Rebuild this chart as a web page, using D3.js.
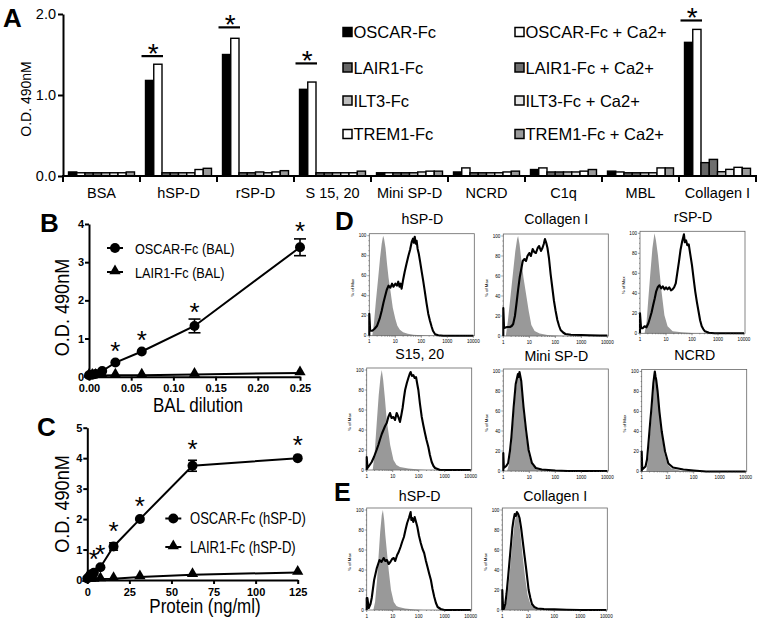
<!DOCTYPE html>
<html><head><meta charset="utf-8">
<script src="https://cdn.jsdelivr.net/npm/d3@7"></script>
<style>body{margin:0;background:#fff} svg{display:block} text{font-family:"Liberation Sans",Arial,sans-serif}</style>
</head><body><svg id="c" width="764" height="626"></svg>
<script>
// ================= DATA =================
// Panel A
const aCategories = ["BSA","hSP-D","rSP-D","S 15, 20","Mini SP-D","NCRD","C1q","MBL","Collagen I"];
const aSeries = ["OSCAR-Fc","OSCAR-Fc + Ca2+","LAIR1-Fc","LAIR1-Fc + Ca2+","ILT3-Fc","ILT3-Fc + Ca2+","TREM1-Fc","TREM1-Fc + Ca2+"];
const aOSCAR   = [0.05,1.18,1.50,1.07,0.04,0.05,0.08,0.06,1.65];
const aOSCARCa = [0.04,1.38,1.70,1.16,0.04,0.10,0.10,0.05,1.81];
const aLAIR1   = [0.04,0.04,0.04,0.04,0.04,0.04,0.05,0.04,0.165];
const aLAIR1Ca = [0.04,0.04,0.04,0.04,0.04,0.04,0.05,0.04,0.205];
const aILT3    = [0.04,0.04,0.05,0.04,0.04,0.04,0.05,0.04,0.053];
const aILT3Ca  = [0.04,0.04,0.04,0.04,0.05,0.04,0.05,0.04,0.082];
const aTREM1   = [0.04,0.08,0.05,0.04,0.06,0.05,0.06,0.10,0.107];
const aTREM1Ca = [0.05,0.095,0.066,0.06,0.06,0.06,0.08,0.10,0.095];
const aSigCats = ["hSP-D","rSP-D","S 15, 20","Collagen I"];
const aSigLevel = [1.48,1.835,1.39,1.92];
const aYTicks = [0,1,2];

// Panel B
const bX = [0,0.0039,0.0078,0.0156,0.03125,0.0625,0.125,0.25];
const bOSCAR = [0.04,0.05,0.07,0.15,0.37,0.66,1.33,3.39];
const bOSCARErr = [0,0,0,0,0.03,0.03,0.18,0.22];
const bLAIR1 = [0.03,0.03,0.03,0.03,0.04,0.04,0.06,0.10];
const bSig = [0.03125,0.0625,0.125,0.25];
const bXTicks = [0,0.05,0.10,0.15,0.20,0.25];
const bYTicks = [0,1,2,3,4];

// Panel C
const cX = [0,0.98,1.95,3.9,7.8,15.6,31.25,62.5,125];
const cOSCAR = [0.05,0.10,0.18,0.24,0.42,1.10,2.00,3.75,4.00];
const cOSCARErr = [0,0,0,0,0.03,0.12,0.04,0.18,0.05];
const cLAIR1 = [0.02,0.02,0.02,0.02,0.03,0.04,0.10,0.17,0.25];
const cSig = [3.9,7.8,15.6,31.25,62.5,125];
const cXTicks = [0,25,50,75,100,125];
const cYTicks = [0,1,2,3,4,5];

// Panels D/E : flow histograms, [fluorescence, % of max]
const dHspdIso = [[1,0],[1.3,0],[1.5,12],[1.8,35],[2.2,58],[2.6,78],[3.0,92],[3.4,100],[3.7,97],[4.2,88],[4.8,72],[5.5,58],[6.5,45],[8,28],[10,17],[12,10],[15,6],[20,3.5],[30,2],[50,1],[100,0.5],[200,0],[10000,0]];
const dHspdStain = [[1,0],[1,22],[1.08,5],[1.3,5],[1.6,7],[2,10],[2.5,17],[3,25],[3.5,33],[4,39],[4.7,46],[5.5,50],[6.5,48],[7.5,52],[8.5,49],[10,52],[11.5,50],[13,54],[14.5,49],[16,52],[17.5,47],[20,56],[23,64],[27,72],[32,80],[37,86],[43,94],[48,97],[52,93],[56,99],[61,92],[66,95],[72,87],[80,82],[90,74],[105,63],[118,55],[135,45],[160,32],[185,22],[215,15],[250,9],[280,5],[340,1.5],[450,0.5],[700,0],[10000,0]];
const dColIso = [[1,0],[1.25,0],[1.5,15],[1.9,40],[2.4,65],[2.9,85],[3.4,97],[3.7,100],[4.2,92],[5,75],[6,58],[7.5,42],[9.5,25],[12,11],[16,5],[25,2.5],[50,1],[150,0.3],[300,0],[10000,0]];
const dColStain = [[1,0],[1,28],[1.07,8],[1.4,9],[1.8,9],[2.1,10],[2.4,12],[2.8,20],[3.2,32],[3.7,46],[4.3,59],[5,68],[5.6,75],[6.5,77],[7.5,75],[8.5,80],[10,83],[11.5,80],[13.5,87],[15.5,84],[18,83],[21,88],[24,90],[28,85],[32,88],[36,92],[40,97],[45,93],[50,88],[57,78],[66,62],[77,48],[89,35],[103,25],[120,16],[140,10],[160,6],[200,3.5],[245,2],[400,1.2],[1000,1],[2000,0.8],[5000,0.5],[10000,0.5]];
const dRspdIso = [[1,0],[1.5,0],[1.8,12],[2.1,35],[2.5,60],[3.0,85],[3.6,100],[4.1,93],[4.9,78],[6.5,45],[8.7,18],[11.5,7],[18,2],[40,1],[100,0.3],[200,0],[10000,0]];
const dRspdStain = [[1,0],[1,20],[1.1,5],[1.26,5],[1.5,7],[1.78,6],[2.1,10],[2.4,15],[2.8,21],[3.2,28],[3.7,35],[4.2,42],[4.8,46],[5.6,48],[6.5,45],[7.5,47],[8.7,44],[10,46],[11.5,44],[13.3,46],[15.5,43],[17.8,44],[20.5,46],[23.7,50],[27,60],[31.6,72],[36,83],[42,92],[46,96],[49,99],[53,91],[59,93],[66,88],[75,89],[86,79],[100,68],[115,55],[133,42],[155,31],[178,22],[205,13],[237,7],[275,4],[316,2],[450,0.5],[740,0],[10000,0]];
const dS1520Iso = [[1,0],[1.7,0],[2,15],[2.4,45],[2.9,75],[3.4,93],[3.8,100],[4.3,90],[5,72],[5.9,50],[8,25],[10.7,10],[14,5],[19,3],[40,1.5],[100,0.5],[200,0],[10000,0]];
const dS1520Stain = [[1,0],[1,13],[1.08,2],[1.3,5],[1.56,8],[1.9,13],[2.4,20],[2.8,25],[3.2,30],[3.8,36],[4.4,40],[5.1,44],[5.9,47],[6.8,53],[7.9,57],[9,52],[10.6,53],[12.3,50],[14.2,57],[16.5,53],[19,48],[21.5,55],[24,62],[27,72],[30,80],[35,87],[40,92],[45,96],[49,98],[55,94],[62,95],[70,92],[79,93],[88,86],[97,80],[112,66],[131,53],[150,45],[174,37],[200,30],[235,23],[270,15],[316,8],[370,4],[425,2],[665,0],[10000,0]];
const dMiniIso = [[1,0],[1.4,0],[1.7,8],[2.05,25],[2.5,55],[3.0,80],[3.65,95],[4.2,97],[4.9,85],[6,58],[7.5,35],[9.4,17],[12.6,6],[17.8,2],[30,1],[80,0],[10000,0]];
const dMiniStain = [[1,0],[1,18],[1.05,3],[1.3,5],[1.54,8],[1.8,20],[2.05,34],[2.5,64],[3.0,87],[3.65,97],[3.9,94],[4.2,99],[4.9,90],[6,64],[7.5,41],[9.4,21],[12.6,8],[17.8,3],[30,1.5],[100,0.5],[300,0],[10000,0]];
const dNcrdIso = [[1,0],[1.5,0],[1.8,15],[2.1,38],[2.5,60],[2.9,82],[3.3,95],[3.7,90],[4.3,75],[5,55],[6,36],[7.5,18],[10,7],[14,3],[30,1],[80,0],[10000,0]];
const dNcrdStain = [[1,0],[1,20],[1.05,2],[1.4,5],[1.6,12],[1.8,27],[2.1,48],[2.4,65],[2.8,88],[3.05,96],[3.2,100],[3.4,95],[3.6,92],[4.1,80],[4.8,60],[5.9,40],[7.9,20],[10.6,8],[16,4],[40,2],[100,1],[300,0],[10000,0]];
const eHspdIso = [[1,0],[1.8,0],[2.1,8],[2.5,30],[2.8,50],[3.3,78],[3.8,95],[4.2,100],[4.7,90],[5.2,75],[6,58],[7,40],[8.6,20],[11,8],[14,4],[17,3],[30,1.5],[70,0.5],[150,0],[10000,0]];
const eHspdStain = [[1,0],[1,12],[1.06,12],[1.2,2],[1.4,6],[1.56,12],[1.93,30],[2.45,42],[3.1,50],[3.7,48],[4.5,52],[5.2,49],[6,50],[7,46],[8.1,48],[9.5,51],[11,52],[12.5,49],[14.8,55],[17,58],[20,63],[23,68],[27,73],[31,80],[36,87],[42,92],[49,98],[52,90],[56,92],[62,88],[70,93],[79,88],[89,83],[103,74],[120,67],[140,61],[162,57],[190,49],[218,43],[255,36],[295,30],[340,21],[398,13],[460,7],[535,3],[700,1],[970,0],[10000,0]];
const eColIso = [[1,0],[1.2,0],[1.5,10],[1.9,35],[2.4,65],[3.0,88],[3.6,97],[4.1,95],[4.8,80],[6,55],[7.5,33],[9.4,15],[12,6],[16,2],[30,1],[60,0],[10000,0]];
const eColStain = [[1,0],[1,20],[1.06,5],[1.15,1],[1.3,6],[1.45,16],[1.7,35],[1.94,52],[2.2,68],[2.44,82],[2.7,90],[3.0,96],[3.3,94],[3.65,98],[4.1,96],[4.6,92],[5.3,82],[6.1,69],[7.1,55],[8.2,42],[9.4,29],[10.3,20],[12,12],[13.8,6],[17,3],[22.4,1.5],[40,1],[100,0.6],[300,0.3],[1000,0],[10000,0]];
const histXTicks = [1,10,100,1000,10000];
const histYTicks = [0,20,40,60,80,100];

// ================= DRAW =================
const FONT = '"Liberation Sans", Arial, sans-serif';
const svg = d3.select("#c");

function txt(g, x, y, s, size, opts = {}) {
  const sx = opts.sx || 1, rot = opts.rot || 0;
  return g.append("text")
    .attr("transform", `translate(${x},${y}) rotate(${rot}) scale(${sx},1)`)
    .attr("text-anchor", opts.anchor || "start")
    .style("font-family", FONT).style("font-size", size + "px")
    .style("font-weight", opts.bold ? "bold" : "normal")
    .attr("fill", "#000").text(s);
}

// ---------- Panel A ----------
(function () {
  const g = svg.append("g");
  const y = d3.scaleLinear().domain([0, 2]).range([176, 14]);
  const x0 = d3.scaleBand().domain(aCategories).range([63, 756]).paddingInner(0.143).paddingOuter(0.0715);
  const x1 = d3.scaleBand().domain(aSeries).range([0, x0.bandwidth()]);
  const vals = [aOSCAR, aOSCARCa, aLAIR1, aLAIR1Ca, aILT3, aILT3Ca, aTREM1, aTREM1Ca];
  const fills = ["#000", "#fff", "#666", "#6e6e6e", "#bdbdbd", "#e4e4e4", "#fff", "#9a9a9a"];
  const rows = [];
  aCategories.forEach((c, i) => aSeries.forEach((s, j) => rows.push({ c, s, j, v: vals[j][i] })));
  g.selectAll("rect.bar").data(rows).join("rect").attr("class", "bar")
    .attr("x", d => x0(d.c) + x1(d.s)).attr("width", x1.bandwidth())
    .attr("y", d => y(d.v)).attr("height", d => y(0) - y(d.v))
    .attr("fill", d => fills[d.j]).attr("stroke", "#000").attr("stroke-width", 1.4);

  // axes
  const ya = g.append("g").attr("transform", "translate(63,0)")
    .call(d3.axisLeft(y).tickValues(aYTicks).tickFormat(d3.format(".1f")).tickSize(5).tickPadding(2).tickSizeOuter(0));
  ya.select(".domain").attr("stroke-width", 2);
  ya.selectAll(".tick line").attr("stroke-width", 2);
  ya.selectAll("text").style("font-family", FONT).style("font-size", "14.5px").attr("fill", "#000");
  const gap = (x0.step() - x0.bandwidth()) / 2;
  const bounds = aCategories.map(c => x0(c) - gap).concat([x0(aCategories[aCategories.length - 1]) + x0.bandwidth() + gap]);
  g.append("line").attr("x1", 62).attr("x2", bounds[bounds.length - 1] + 1).attr("y1", y(0)).attr("y2", y(0)).attr("stroke", "#000").attr("stroke-width", 2);
  g.selectAll("line.xt").data(bounds).join("line").attr("class", "xt")
    .attr("x1", d => d).attr("x2", d => d).attr("y1", y(0)).attr("y2", y(0) + 6).attr("stroke", "#000").attr("stroke-width", 2);
  aCategories.forEach(c => txt(g, x0(c) + x0.bandwidth() / 2, 198, c, 14.5, { anchor: "middle" }));
  txt(g, 31, 99, "O.D. 490nM", 14, { anchor: "middle", rot: -90 });

  // significance
  aSigCats.forEach((c, k) => {
    const xa = x0(c) + x1(aSeries[0]) - 4, xb = x0(c) + x1(aSeries[1]) + x1.bandwidth() + 1;
    const ly = y(aSigLevel[k]);
    g.append("line").attr("x1", xa).attr("x2", xb).attr("y1", ly).attr("y2", ly).attr("stroke", "#000").attr("stroke-width", 2.2);
    txt(g, (xa + xb) / 2 + 1, ly - 9 + 16, "*", 28, { anchor: "middle" });
  });

  // legend
  const legRowsY = [32, 67.5, 100.5, 134];
  aSeries.forEach((s, j) => {
    const col = j % 2, row = Math.floor(j / 2);
    const mx = col === 0 ? 343 : 515, cy = legRowsY[row];
    g.append("rect").attr("x", mx).attr("y", cy - 4.5).attr("width", 9).attr("height", 9)
      .attr("fill", fills[j]).attr("stroke", "#000").attr("stroke-width", 1.5);
    txt(g, mx + 10.5, cy + 6, s, 16.5);
  });
  txt(g, 3, 27, "A", 26, { bold: true });
})();

// ---------- Panels B & C ----------
function drawXY(p) {
  const g = svg.append("g");
  const x = d3.scaleLinear().domain(p.xDomain).range(p.xRange);
  const y = d3.scaleLinear().domain(p.yDomain).range(p.yRange);
  const xa = g.append("g").attr("transform", `translate(0,${p.yRange[0]})`)
    .call(d3.axisBottom(x).tickValues(p.xTicks).tickFormat(p.xFmt).tickSize(4).tickPadding(4).tickSizeOuter(0));
  const ya = g.append("g").attr("transform", `translate(${p.xRange[0]},0)`)
    .call(d3.axisLeft(y).tickValues(p.yTicks).tickFormat(d3.format("d")).tickSize(4).tickPadding(1).tickSizeOuter(0));
  [xa, ya].forEach(a => {
    a.select(".domain").attr("stroke-width", 2);
    a.selectAll(".tick line").attr("stroke-width", 2);
    a.selectAll("text").style("font-family", FONT).style("font-size", "11px").style("font-weight", "bold").attr("fill", "#000");
  });
  const pts = (xs, ys) => xs.map((v, i) => [v, ys[i]]);
  const line = d3.line().x(d => x(d[0])).y(d => y(d[1]));
  const tri = d3.symbol().type(d3.symbolTriangle).size(55);
  // LAIR1
  const lp = pts(p.xs, p.lair);
  g.append("path").attr("d", line(lp)).attr("fill", "none").attr("stroke", "#000").attr("stroke-width", 2);
  g.selectAll("path.tri").data(lp).join("path").attr("class", "tri")
    .attr("transform", d => `translate(${x(d[0])},${y(d[1]) - 1})`).attr("d", tri).attr("fill", "#000");
  // OSCAR
  const op = pts(p.xs, p.oscar);
  g.append("path").attr("d", line(op)).attr("fill", "none").attr("stroke", "#000").attr("stroke-width", 2);
  p.xs.forEach((v, i) => {
    const e = p.err[i];
    if (e > 0.05) {
      const cx = x(v), t = y(p.oscar[i] + e), b = y(p.oscar[i] - e);
      g.append("line").attr("x1", cx).attr("x2", cx).attr("y1", t).attr("y2", b).attr("stroke", "#000").attr("stroke-width", 1.6);
      [t, b].forEach(yy => g.append("line").attr("x1", cx - p.cap).attr("x2", cx + p.cap).attr("y1", yy).attr("y2", yy).attr("stroke", "#000").attr("stroke-width", 1.6));
    }
  });
  g.selectAll("circle.pt").data(op).join("circle").attr("class", "pt")
    .attr("cx", d => x(d[0])).attr("cy", d => y(d[1])).attr("r", 5).attr("fill", "#000");
  // significance stars
  p.sig.forEach(sv => {
    const i = p.xs.indexOf(sv);
    const cy = Math.min(y(p.oscar[i] + p.err[i]) - p.starA, y(p.oscar[i]) - p.starB);
    txt(g, x(sv), cy + 14.5, "*", 26, { anchor: "middle" });
  });
  // legend
  p.legend.forEach((L, k) => {
    const cy = L.y;
    g.append("line").attr("x1", p.legX - 8).attr("x2", p.legX + 8).attr("y1", cy).attr("y2", cy).attr("stroke", "#000").attr("stroke-width", 2);
    if (k === 0) g.append("circle").attr("cx", p.legX).attr("cy", cy).attr("r", 5).attr("fill", "#000");
    else g.append("path").attr("transform", `translate(${p.legX},${cy - 1})`).attr("d", tri).attr("fill", "#000");
    txt(g, p.legTextX, cy + 5.5, L.label, p.legSize, { sx: p.legSx });
  });
  txt(g, p.xLabel.x, p.xLabel.y, p.xLabel.t, 20, { anchor: "middle", sx: 0.85 });
  txt(g, 68.5, p.yLabelY, "O.D. 490nM", 19.5, { anchor: "middle", rot: -90, sx: 0.93 });
  txt(g, p.letter.x, p.letter.y, p.letter.t, 26, { bold: true });
}

drawXY({
  xDomain: [0, 0.25], xRange: [89, 300], yDomain: [0, 4], yRange: [376.7, 224],
  xTicks: bXTicks, yTicks: bYTicks, xFmt: d3.format(".2f"),
  xs: bX, oscar: bOSCAR, err: bOSCARErr, lair: bLAIR1, sig: bSig, cap: 6, starA: 13, starB: 17,
  legX: 115, legTextX: 135, legSize: 15.5, legSx: 0.82,
  legend: [{ y: 248, label: "OSCAR-Fc (BAL)" }, { y: 272, label: "LAIR1-Fc (BAL)" }],
  xLabel: { x: 198, y: 412, t: "BAL dilution" }, yLabelY: 307.5,
  letter: { x: 40, y: 232, t: "B" }
});
drawXY({
  xDomain: [0, 125], xRange: [87.3, 297.7], yDomain: [0, 5], yRange: [580, 427.7],
  xTicks: cXTicks, yTicks: cYTicks, xFmt: d3.format("d"),
  xs: cX, oscar: cOSCAR, err: cOSCARErr, lair: cLAIR1, sig: cSig, cap: 4.5, starA: 17, starB: 19,
  legX: 173.3, legTextX: 190, legSize: 16.3, legSx: 0.8,
  legend: [{ y: 518.5, label: "OSCAR-Fc (hSP-D)" }, { y: 547, label: "LAIR1-Fc (hSP-D)" }],
  xLabel: { x: 205, y: 613, t: "Protein (ng/ml)" }, yLabelY: 504,
  letter: { x: 37, y: 436, t: "C" }
});

// ---------- Panels D & E ----------
const histLayout = [
  { title: "hSP-D", left: 369.3, bottom: 335.7, tb: 223.5, iso: dHspdIso, stain: dHspdStain },
  { title: "Collagen I", left: 503.3, bottom: 336, tb: 223.5, iso: dColIso, stain: dColStain },
  { title: "rSP-D", left: 640, bottom: 333.3, tb: 221.5, iso: dRspdIso, stain: dRspdStain },
  { title: "S15, 20", left: 366.7, bottom: 470, tb: 358.5, iso: dS1520Iso, stain: dS1520Stain },
  { title: "Mini SP-D", left: 503.3, bottom: 471, tb: 361, iso: dMiniIso, stain: dMiniStain },
  { title: "NCRD", left: 641.7, bottom: 471.5, tb: 360, iso: dNcrdIso, stain: dNcrdStain },
  { title: "hSP-D", left: 366.7, bottom: 610, tb: 500.5, iso: eHspdIso, stain: eHspdStain },
  { title: "Collagen I", left: 502.3, bottom: 610, tb: 500.5, iso: eColIso, stain: eColStain }
];
histLayout.forEach(h => {
  const g = svg.append("g");
  const x = d3.scaleLog().domain([1, 10000]).range([h.left, h.left + 104]);
  const y = d3.scaleLinear().domain([0, 100]).range([h.bottom, h.bottom - 100]);
  g.append("path").attr("d", d3.area().x(d => x(d[0])).y0(y(0)).y1(d => y(d[1]))(h.iso)).attr("fill", "#999");
  g.append("rect").attr("x", h.left).attr("y", y(102)).attr("width", 105).attr("height", y(0) - y(102))
    .attr("fill", "none").attr("stroke", "#666").attr("stroke-width", 0.8);
  g.append("path").attr("d", d3.line().x(d => x(d[0])).y(d => y(d[1]))(h.stain))
    .attr("fill", "none").attr("stroke", "#000").attr("stroke-width", 2.1).attr("stroke-linejoin", "round");
  // ticks
  const minorX = [];
  [1, 10, 100, 1000].forEach(dec => { for (let k = 2; k <= 9; k++) minorX.push(dec * k); });
  g.selectAll("line.mx").data(minorX).join("line").attr("class", "mx")
    .attr("x1", d => x(d)).attr("x2", d => x(d)).attr("y1", y(0)).attr("y2", y(0) + 1).attr("stroke", "#444").attr("stroke-width", 0.5);
  g.selectAll("line.Mx").data(histXTicks).join("line").attr("class", "Mx")
    .attr("x1", d => x(d)).attr("x2", d => x(d)).attr("y1", y(0)).attr("y2", y(0) + 2).attr("stroke", "#444").attr("stroke-width", 0.6);
  histXTicks.forEach(t => txt(g, x(t), y(0) + 7.5, String(t), 4.6, { anchor: "middle" }));
  const minorY = d3.range(0, 101, 5);
  g.selectAll("line.my").data(minorY).join("line").attr("class", "my")
    .attr("x1", h.left).attr("x2", d => h.left - (d % 20 === 0 ? 2 : 1)).attr("y1", d => y(d)).attr("y2", d => y(d)).attr("stroke", "#444").attr("stroke-width", 0.5);
  histYTicks.forEach(t => txt(g, h.left - 3, y(t) + 1.6, String(t), 4.6, { anchor: "end" }));
  txt(g, h.left - 15.5, y(48), "% of Max", 4.3, { anchor: "middle", rot: -90 });
  txt(g, h.left + 53, h.tb, h.title, 14.2, { anchor: "middle" });
});
txt(svg, 335, 230, "D", 26, { bold: true });
txt(svg, 334, 501, "E", 25, { bold: true });
</script></body></html>
